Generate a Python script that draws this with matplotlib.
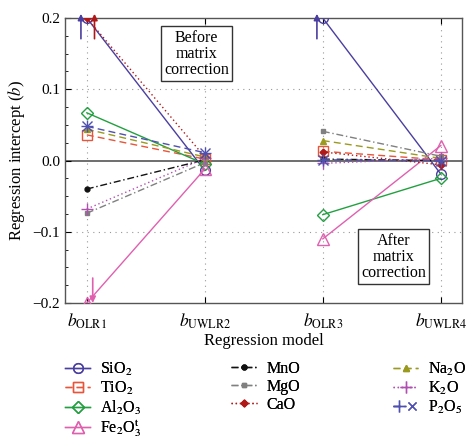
import matplotlib
matplotlib.use("Agg")
import matplotlib.pyplot as plt
import numpy as np
from matplotlib.lines import Line2D
from matplotlib.legend_handler import HandlerTuple

plt.rcParams['font.family'] = ['Liberation Serif', 'DejaVu Serif']
plt.rcParams['mathtext.fontset'] = 'stix'

models = [r"$b_{\mathrm{OLR1}}$", r"$b_{\mathrm{UWLR2}}$", r"$b_{\mathrm{OLR3}}$", r"$b_{\mathrm{UWLR4}}$"]
oxides = ["SiO$_2$", "TiO$_2$", "Al$_2$O$_3$", "Fe$_2$O$_3^{\\mathrm{t}}$", "MnO", "MgO", "CaO",
          "Na$_2$O", "K$_2$O", "P$_2$O$_5$"]

SiO2 = [0.2, -0.014, 0.2, -0.019]
TiO2 = [0.036, 0.002, 0.013, 0.001]
Al2O3 = [0.067, -0.005, -0.076, -0.025]
Fe2O3 = [-0.2, -0.012, -0.110, 0.021]
MnO = [-0.040, 0.001, 0.002, 0.000]
MgO = [-0.074, -0.003, 0.041, 0.006]
CaO = [0.2, 0.005, 0.012, -0.006]
Na2O = [0.044, 0.005, 0.028, 0.003]
K2O = [-0.068, 0.003, -0.004, 0.003]
P2O5 = [0.048, 0.011, 0.001, 0.000]
series = [SiO2, TiO2, Al2O3, Fe2O3, MnO, MgO, CaO, Na2O, K2O, P2O5]

styles = [
    dict(color="#4a3fa0", ls="-", marker="o", ms=7, mfc="none"),
    dict(color="#e8553a", ls=(0, (5, 3)), marker="s", ms=7, mfc="none"),
    dict(color="#22a040", ls="-", marker="D", ms=6.5, mfc="none"),
    dict(color="#e060b0", ls="-", marker="^", ms=8, mfc="none"),
    dict(color="#111111", ls=(0, (5, 2, 1, 2)), marker="o", ms=3.5, mfc="#111111"),
    dict(color="#808080", ls=(0, (5, 2, 1, 2)), marker="s", ms=3.5, mfc="#808080"),
    dict(color="#b01818", ls=(0, (1, 2)), marker="D", ms=3.5, mfc="#b01818"),
    dict(color="#9a9a20", ls=(0, (5, 3)), marker="^", ms=4, mfc="#9a9a20"),
    dict(color="#b050b0", ls=(0, (1, 2)), marker="+", ms=9, mfc="none"),
    dict(color="#5050b0", ls=(0, (5, 3)), marker="*", ms=0, mfc="none"),
]
arrow_side = {0: -0.05, 6: 0.065, 3: 0.05}

fig = plt.figure(figsize=(4.66, 4.41), dpi=100)
ax = fig.add_axes([0.1395, 0.313, 0.852, 0.646])
x = np.arange(1, len(models) + 1)
ymin, ymax = -0.2, 0.2
pairs = [(0, 2), (2, 4)]

ax.axhline(0, color="#555555", lw=1.2, zorder=1)
for yy in (-0.1, 0.1):
    ax.axhline(yy, color="#999999", lw=0.8, ls=(0, (1, 4)), zorder=0)
for xx in x:
    ax.axvline(xx, color="#999999", lw=0.8, ls=(0, (1, 4)), zorder=0)

handles = []
for i, (vals, st, lab) in enumerate(zip(series, styles, oxides)):
    kw = dict(st)
    vals = np.asarray(vals)
    for a, b in pairs:
        if i == 9:
            ax.plot(x[a:b], vals[a:b], color=kw["color"], ls=kw["ls"], lw=1.0, zorder=3)
            ax.plot(x[a:b], vals[a:b], ls="none", marker="+", ms=9, mew=1.0, color=kw["color"], zorder=4)
            ax.plot(x[a:b], vals[a:b], ls="none", marker="x", ms=7, mew=1.0, color=kw["color"], zorder=4)
        else:
            ax.plot(x[a:b], vals[a:b], color=kw["color"], ls=kw["ls"], lw=1.0, marker=kw["marker"],
                    ms=kw["ms"], mfc=kw["mfc"], mec=kw["color"], mew=1.0, zorder=3)
    if i == 9:
        h = (Line2D([], [], color=kw["color"], ls=kw["ls"], lw=1.0, marker="+", ms=8),
             Line2D([], [], color=kw["color"], ls="none", marker="x", ms=6))
    else:
        h = Line2D([], [], color=kw["color"], ls=kw["ls"], lw=1.0, marker=kw["marker"],
                   ms=kw["ms"], mfc=kw["mfc"], mec=kw["color"], mew=1.0)
    handles.append(h)
    for xi, v in zip(x, vals):
        if v >= ymax or v <= ymin:
            dx = arrow_side.get(i, 0.0)
            sgn = 1 if v >= ymax else -1
            tip = ymax + 0.006 if sgn > 0 else ymin
            ax.annotate("", xy=(xi + dx, tip), xytext=(xi + dx, tip - sgn * 0.035),
                        arrowprops=dict(arrowstyle="-|>", color=kw["color"], lw=1.2,
                                        mutation_scale=9, shrinkA=0, shrinkB=0),
                        annotation_clip=False, zorder=5)

ax.set_xlim(0.815, 4.18)
ax.set_ylim(ymin, ymax)
ax.set_xticks(x)
ax.set_xticklabels(models, fontsize=12.5)
ax.set_yticks([-0.2, -0.1, 0.0, 0.1, 0.2])
ax.set_yticklabels(["−0.2", "−0.1", "0.0", "0.1", "0.2"], fontsize=11)
ax.set_yticks(np.arange(-0.2, 0.2001, 0.025), minor=True)
ax.tick_params(axis="both", direction="in", length=4, top=True, right=False)
ax.tick_params(axis="y", which="minor", direction="in", length=2.5)
ax.tick_params(axis="x", pad=6)
for s in ax.spines.values():
    s.set_color("#555555")
    s.set_linewidth(1.0)

ax.set_ylabel(r"Regression intercept ($b$)", fontsize=12)
ax.set_xlabel("Regression model", fontsize=12, labelpad=2)

bbox = dict(boxstyle="square,pad=0.2", fc="white", ec="#333333", lw=1.0)
ax.text(1.93, 0.15, "Before\nmatrix\ncorrection", ha="center", va="center", fontsize=11.5,
        linespacing=1.0, bbox=bbox, zorder=6)
ax.text(3.6, -0.135, "After\nmatrix\ncorrection", ha="center", va="center", fontsize=11.5,
        linespacing=1.0, bbox=bbox, zorder=6)

groups = [(0, 4, 0.139), (4, 7, 0.496), (7, 10, 0.843)]
for a, b, xpos in groups:
    leg = fig.legend(handles[a:b], oxides[a:b], loc="upper left", bbox_to_anchor=(xpos, 0.182),
                     frameon=False, fontsize=11.5, handlelength=1.6, labelspacing=0.12,
                     handletextpad=0.6, borderpad=0, borderaxespad=0,
                     handler_map={tuple: HandlerTuple(ndivide=None, pad=0)})
    fig.add_artist(leg)

fig.savefig("out.png", dpi=100)
